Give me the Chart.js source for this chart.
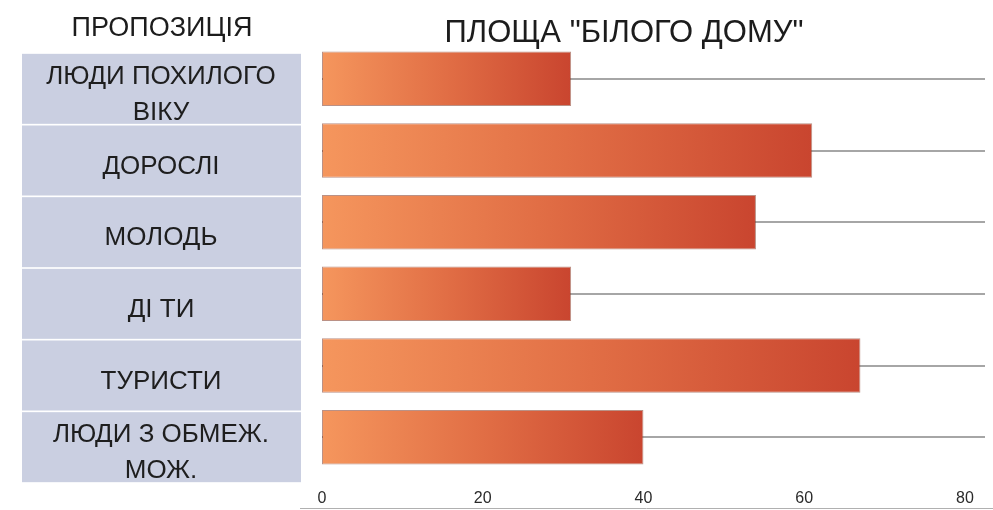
<!DOCTYPE html>
<html>
<head>
<meta charset="utf-8">
<script src="https://cdn.jsdelivr.net/npm/chart.js@4.4.0/dist/chart.umd.min.js"></script>
<style>
  body { margin: 0; background: #fff; }
  canvas { display: block; }
</style>
</head>
<body>
<canvas id="myChart" width="993" height="510"></canvas>
<script>
const headerLeft = "ПРОПОЗИЦІЯ";
const titleText = "ПЛОЩА \"БІЛОГО ДОМУ\"";
const categories = [
  ["ЛЮДИ ПОХИЛОГО", "ВІКУ"],
  "ДОРОСЛІ",
  "МОЛОДЬ",
  "ДІ ТИ",
  "ТУРИСТИ",
  ["ЛЮДИ З ОБМЕЖ.", "МОЖ."],
];
const values = [31, 61, 54, 31, 67, 40];
const xTicks = [0, 20, 40, 60, 80];

const FONT = '"Liberation Sans", Arial, sans-serif';

// gradient for every bar, from its base to its end
function barGradient(c) {
  const chart = c.chart;
  const xs = chart.scales.x;
  if (!xs || c.dataIndex === undefined) return "#e0703f";
  const x0 = xs.getPixelForValue(0);
  const x1 = xs.getPixelForValue(values[c.dataIndex]);
  if (!isFinite(x0) || !isFinite(x1) || x1 <= x0) return "#e0703f";
  const g = chart.ctx.createLinearGradient(x0, 0, x1, 0);
  g.addColorStop(0, "#f5965d");
  g.addColorStop(0.5, "#e16e45");
  g.addColorStop(1, "#c9452f");
  return g;
}

// left column boxes + headers
const labelBoxes = {
  id: "labelBoxes",
  beforeDraw(chart) {
    const ctx = chart.ctx;
    const y = chart.scales.y;
    ctx.save();
    ctx.textAlign = "center";
    ctx.textBaseline = "middle";
    ctx.fillStyle = "#1c1c1c";
    ctx.font = "27px " + FONT;
    ctx.fillText(headerLeft, 162, 29);
    ctx.font = "31px " + FONT;
    ctx.fillText(titleText, 624, 33);

    categories.forEach((cat, i) => {
      const cy = y.getPixelForTick(i);
      ctx.fillStyle = "#cacfe1";
      ctx.fillRect(22, cy - 25, 279, 70);
      const lines = Array.isArray(cat) ? cat : [cat];
      ctx.fillStyle = "#1e1e1e";
      ctx.font = "26px " + FONT;
      lines.forEach((t, j) => {
        ctx.fillText(t, 161, cy + 16 + (j - (lines.length - 1) / 2) * 36);
      });
    });

    ctx.strokeStyle = "#b0b0b0";
    ctx.lineWidth = 1;
    ctx.beginPath();
    ctx.moveTo(300, 508.5);
    ctx.lineTo(993, 508.5);
    ctx.stroke();
    ctx.restore();
  },
};

let myChart = document.getElementById("myChart");
let myChart2D = myChart.getContext("2d");

const config = {
  type: "bar",
  data: {
    labels: categories,
    datasets: [
      {
        data: values,
        backgroundColor: barGradient,
        borderColor: "rgba(130, 55, 35, 0.55)",
        borderWidth: 1,
        borderSkipped: false,
        barPercentage: 0.76,
        categoryPercentage: 1,
      },
    ],
  },
  options: {
    indexAxis: "y",
    responsive: false,
    animation: false,
    layout: {
      padding: { left: 322, right: 8, top: 43, bottom: 3 },
    },
    plugins: {
      legend: { display: false },
      title: { display: false },
      tooltip: { enabled: false },
    },
    scales: {
      x: {
        min: 0,
        max: 82.5,
        afterBuildTicks: (axis) => {
          axis.ticks = xTicks.map((v) => ({ value: v }));
        },
        afterFit: (axis) => {
          axis.height = 34;
        },
        grid: { display: false, drawTicks: false },
        border: { display: false },
        ticks: {
          padding: 16,
          color: "#2a2a2a",
          font: { family: FONT, size: 16 },
        },
      },
      y: {
        grid: {
          offset: false,
          color: "#a6a6a6",
          lineWidth: 2,
          drawTicks: false,
        },
        border: { display: false },
        ticks: { display: false },
      },
    },
  },
  plugins: [labelBoxes],
};

let new_chart = new Chart(myChart2D, config);
</script>
</body>
</html>
